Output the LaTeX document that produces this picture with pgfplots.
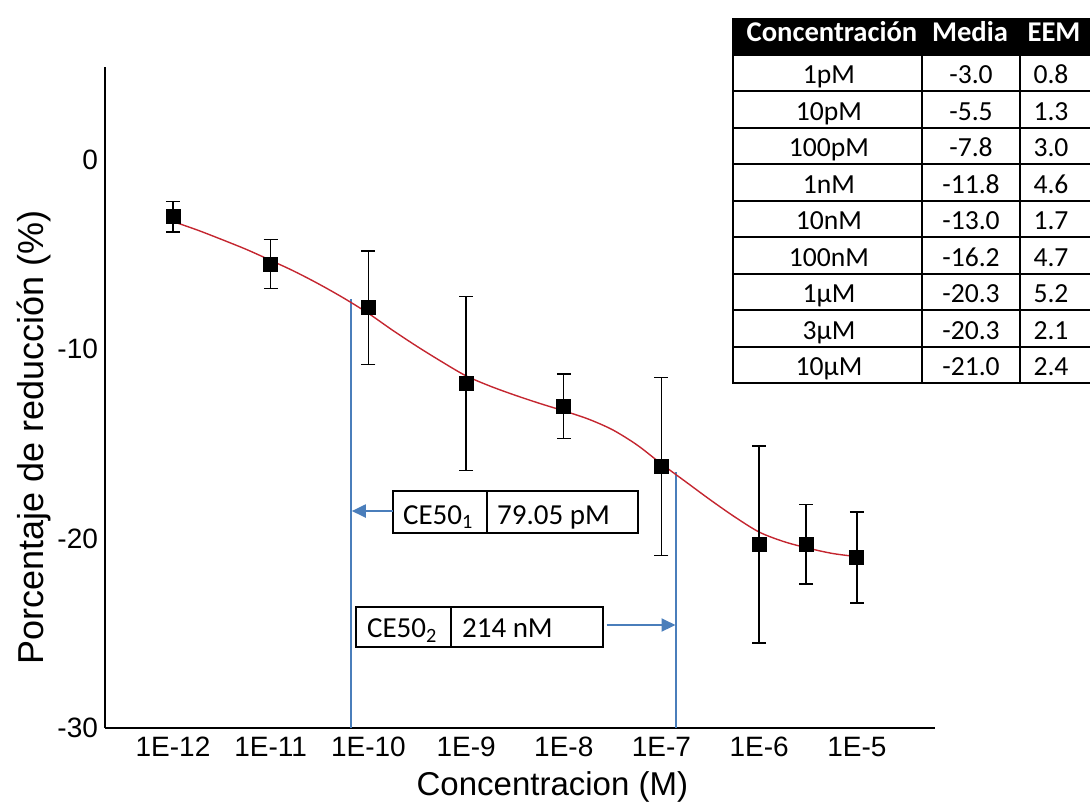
\documentclass[border=0pt]{standalone}
\usepackage{fontspec}
\setmainfont{Liberation Sans}
\newfontfamily\calibri{Carlito}
\usepackage{pgfplots}
\usepackage{pgfplotstable}
\pgfplotsset{compat=1.18}
\usetikzlibrary{arrows.meta}
\definecolor{fitred}{RGB}{196,38,48}
\definecolor{ceblue}{RGB}{74,126,187}

\pgfplotstableread{
x y e
-12 -3.0 0.8
-11 -5.5 1.3
-10 -7.8 3.0
-9 -11.8 4.6
-8 -13.0 1.7
-7 -16.2 4.7
-6 -20.3 5.2
-5.52 -20.3 2.1
-5 -21.0 2.4
}\means

\pgfplotstableread{
x y
-12.0 -3.25
-11.75 -3.7
-11.5 -4.2
-11.25 -4.72
-11.0 -5.3
-10.75 -5.9
-10.5 -6.57
-10.25 -7.3
-10.0 -8.1
-9.75 -9.0
-9.5 -9.85
-9.25 -10.65
-9.0 -11.4
-8.75 -11.95
-8.5 -12.42
-8.25 -12.85
-8.0 -13.25
-7.75 -13.68
-7.5 -14.25
-7.25 -15.05
-7.0 -16.05
-6.75 -17.0
-6.5 -17.95
-6.25 -18.85
-6.0 -19.65
-5.75 -20.15
-5.5 -20.5
-5.25 -20.78
-5.0 -20.95
}\fit

\begin{document}
\begin{tikzpicture}
\path[use as bounding box] (0,0) rectangle (545pt,-402.5pt);
\begin{axis}[
  at={(52.5pt,-364pt)}, anchor=south west, scale only axis,
  width=415pt, height=330.5pt,
  xmin=-12.696, xmax=-4.2, ymin=-30, ymax=4.912,
  axis x line=bottom, axis y line=left,
  axis line style={line width=1.2pt,-},
  xtick={-12,-11,-10,-9,-8,-7,-6,-5},
  xticklabels={1E-12,1E-11,1E-10,1E-9,1E-8,1E-7,1E-6,1E-5},
  ytick={-30,-20,-10,0}, yticklabels={-30,-20,-10,0},
  major tick length=0pt,
  tick label style={font=\fontsize{14}{16}\selectfont},
  xticklabel style={yshift=-1pt},
  xlabel={Concentracion (M)},
  ylabel={Porcentaje de reducción (\%)},
  xlabel style={font=\fontsize{16.5}{19}\selectfont, at={(axis description cs:0.539,-0.1014)}, anchor=base},
  ylabel style={font=\fontsize{18}{21}\selectfont, at={(axis description cs:-0.0735,0.4395)}, anchor=base},
  clip=false,
]
\addplot[ceblue, line width=1pt] coordinates {(-10.175,-30) (-10.175,-7.34)};
\addplot[ceblue, line width=1pt] coordinates {(-6.852,-30) (-6.852,-16.46)};
\addplot[fitred, line width=0.7pt, smooth] table[x=x,y=y] {\fit};
\addplot[black, only marks, mark=square*, mark size=3.5pt,
  error bars/.cd, y dir=both, y explicit,
  error bar style={line width=0.7pt, black},
  error mark options={rotate=90, mark size=3.5pt, line width=0.7pt, black}]
  table[x=x, y=y, y error=e] {\means};
\end{axis}

\begin{scope}[x=0.5pt, y=-0.5pt]
  % annotation boxes
  \draw[line width=1pt] (392.7,490.7) rectangle (638.3,532.7);
  \draw[line width=1pt] (486.7,490.7) -- (486.7,532.7);
  \node[anchor=base west, inner sep=0, font=\calibri\fontsize{14.5}{17}\selectfont] at (402.7,524) {CE50\textsubscript{1}};
  \node[anchor=base west, inner sep=0, font=\calibri\fontsize{14.5}{17}\selectfont] at (496.7,524) {79.05 pM};
  \draw[ceblue, line width=1pt, -{Triangle[length=7pt,width=6.5pt]}] (392.7,511) -- (351.8,511);

  \draw[line width=1pt] (356,606.7) rectangle (603.3,647.3);
  \draw[line width=1pt] (450.7,606.7) -- (450.7,647.3);
  \node[anchor=base west, inner sep=0, font=\calibri\fontsize{14.5}{17}\selectfont] at (366.7,637.7) {CE50\textsubscript{2}};
  \node[anchor=base west, inner sep=0, font=\calibri\fontsize{14.5}{17}\selectfont] at (461.7,637.7) {214 nM};
  \draw[ceblue, line width=1pt, -{Triangle[length=7pt,width=6.5pt]}] (606.7,625) -- (675.5,625);

  % table
  \fill[black] (733,18) rectangle (1095,54.5);
  \foreach \k in {1,...,10} {
    \draw[line width=1pt] (733,{18+36.5*\k}) -- (1095,{18+36.5*\k});
  }
  \draw[line width=1pt] (733,18) -- (733,383.5);
  \draw[line width=1pt] (922,54.5) -- (922,383.5);
  \draw[line width=1pt] (1020,54.5) -- (1020,383.5);
  \begin{scope}[every node/.style={anchor=base, inner sep=0, font=\calibri\bfseries\fontsize{14.3}{17}\selectfont, text=white}]
    \node at (832,41) {Concentración};
    \node at (970,41) {Media};
    \node at (1054,41) {EEM};
  \end{scope}
  \begin{scope}[every node/.style={anchor=base, inner sep=0, font=\calibri\fontsize{13.8}{16}\selectfont}]
    \foreach \c/\m/\s [count=\k] in {1pM/-3.0/0.8, 10pM/-5.5/1.3, 100pM/-7.8/3.0, 1nM/-11.8/4.6, 10nM/-13.0/1.7, 100nM/-16.2/4.7, 1μM/-20.3/5.2, 3μM/-20.3/2.1, 10μM/-21.0/2.4} {
      \node at (829,{18+36.5*(\k+1)-7.5}) {\c};
      \node at (971,{18+36.5*(\k+1)-7.5}) {\m};
      \node at (1051,{18+36.5*(\k+1)-7.5}) {\s};
    }
  \end{scope}
\end{scope}
\end{tikzpicture}
\end{document}
